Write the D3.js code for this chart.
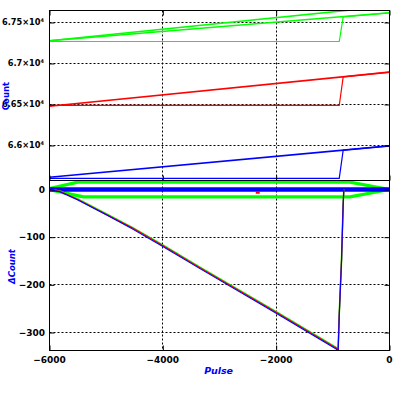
<!DOCTYPE html>
<html><head><meta charset="utf-8">
<script src="https://cdn.jsdelivr.net/npm/d3@7"></script>
<style>body{margin:0;background:#fff}svg{display:block}</style>
</head><body><svg id="c" width="399" height="399"></svg>
<script>
// ---------------- data ----------------
const xDomain = [-6000, 0];
const xMajorTicks = [-6000, -4000, -2000, 0];
const xTickLabels = ["\u22126000", "\u22124000", "\u22122000", "0"];
const countDomain = [65573, 67646];
const countMajorTicks = [66000, 66500, 67000, 67500];
const countTickMantissa = ["6.6", "6.65", "6.7", "6.75"];
const countTickExponent = ["4", "4", "4", "4"];
const deltaDomain = [-337.7, 18.9];
const deltaMajorTicks = [-300, -200, -100, 0];
const deltaTickLabels = ["\u2212300", "\u2212200", "\u2212100", "0"];

// top panel (Count)
const greenSlopeAPulse = [-6000, 0];
const greenSlopeACount = [67278, 67700];
const greenSlopeBPulse = [-6000, 0];
const greenSlopeBCount = [67278, 67618];
const greenStepPulse = [-6000, -887, -817, 0];
const greenStepCount = [67268, 67268, 67568, 67618];
const redSlopePulse = [-6000, 0];
const redSlopeCount = [66479, 66894];
const redStepPulse = [-6000, -887, -817, 0];
const redStepCount = [66488, 66488, 66837, 66894];
const blueSlopePulse = [-6000, 0];
const blueSlopeCount = [65613, 65995];
const blueStepPulse = [-6000, -887, -817, 0];
const blueStepCount = [65598, 65598, 65943, 65995];

// bottom panel (ΔCount)
const greenUpperPulse = [-6000, -5500, -700, 0];
const greenUpperDelta = [2, 15.5, 15.5, 0];
const greenLowerPulse = [-6000, -5900, -5400, -700, 0];
const greenLowerDelta = [0, -3, -15.5, -15.5, 0];
const redSpotPulse = [-2360, -2290];
const redSpotDelta = [-7, -7];
const blueBandPulse = [-6000, 0];
const blueBandDelta = [0, 0];
const diagPulse = [-6000, -5811, -5500, -5000, -4548, -4008, -3345, -1992, -934, -915, -906, -888, -846, -818, -806];
const diagGreenDelta = [0, -3, -20, -51, -79, -116, -163, -257, -332, -338, -336, -265, -146, -31, 0];
const diagRedDelta = [0, -4, -21, -52, -80, -117, -164, -258, -333, -339, -337, -266, -147, -32, 0];
const diagBlueDelta = [0, -5, -22, -53, -82, -119, -166, -260, -335, -340, -337, -267, -148, -33, 0];

// ---------------- drawing ----------------
const svg = d3.select("#c");
const L = 49.5, R = 389.5, T1 = 10.5, B1 = 180.5, T2 = 180.5, B2 = 350.5;
const x = d3.scaleLinear().domain(xDomain).range([L, R]);
const yTop = d3.scaleLinear().domain(countDomain).range([B1, T1]);
const yBot = d3.scaleLinear().domain(deltaDomain).range([B2, T2]);
const FONT = "'DejaVu Sans', sans-serif";

const defs = svg.append("defs");
defs.append("clipPath").attr("id", "clipTop").append("rect")
  .attr("x", L).attr("y", T1).attr("width", R - L).attr("height", B1 - T1);
defs.append("clipPath").attr("id", "clipBot").append("rect")
  .attr("x", L).attr("y", T2).attr("width", R - L).attr("height", B2 - T2);

// grid
const snap = v => Math.round(v - 0.5) + 0.5;
const grid = svg.append("g").attr("stroke", "#000").attr("stroke-width", 1).attr("stroke-dasharray", "2,2");
grid.selectAll("line.gy1").data(countMajorTicks).join("line")
  .attr("class", "gy1")
  .attr("x1", L).attr("x2", R).attr("y1", d => snap(yTop(d))).attr("y2", d => snap(yTop(d)));
grid.selectAll("line.gy2").data(deltaMajorTicks.filter(d => d !== 0)).join("line")
  .attr("class", "gy2")
  .attr("x1", L).attr("x2", R).attr("y1", d => snap(yBot(d))).attr("y2", d => snap(yBot(d)));
grid.selectAll("line.gx").data(xMajorTicks.filter(d => d > xDomain[0] && d < xDomain[1])).join("line")
  .attr("class", "gx")
  .attr("x1", d => snap(x(d))).attr("x2", d => snap(x(d))).attr("y1", T1).attr("y2", B2);

// series helper
function drawLine(g, xs, ys, yScale, color, width) {
  const pts = xs.map((p, i) => [p, ys[i]]);
  g.append("path").datum(pts)
    .attr("fill", "none").attr("stroke", color).attr("stroke-width", width)
    .attr("stroke-linejoin", "round")
    .attr("d", d3.line().x(d => x(d[0])).y(d => yScale(d[1])));
}

const gTop = svg.append("g").attr("clip-path", "url(#clipTop)");
drawLine(gTop, greenStepPulse, greenStepCount, yTop, "#00ff00", 1.2);
drawLine(gTop, greenSlopeAPulse, greenSlopeACount, yTop, "#00ff00", 1.6);
drawLine(gTop, greenSlopeBPulse, greenSlopeBCount, yTop, "#00ff00", 1.6);
drawLine(gTop, redStepPulse, redStepCount, yTop, "#ff0000", 1.2);
drawLine(gTop, redSlopePulse, redSlopeCount, yTop, "#ff0000", 1.6);
drawLine(gTop, blueStepPulse, blueStepCount, yTop, "#0000ff", 1.2);
drawLine(gTop, blueSlopePulse, blueSlopeCount, yTop, "#0000ff", 1.6);

const gBot = svg.append("g").attr("clip-path", "url(#clipBot)");
drawLine(gBot, greenUpperPulse, greenUpperDelta, yBot, "#00ff00", 3.2);
drawLine(gBot, greenLowerPulse, greenLowerDelta, yBot, "#00ff00", 3.2);
drawLine(gBot, redSpotPulse, redSpotDelta, yBot, "#ff0000", 2);
drawLine(gBot, blueBandPulse, blueBandDelta, yBot, "#0000ff", 4.5);
drawLine(gBot, diagPulse, diagGreenDelta, yBot, "#00ff00", 1.6);
drawLine(gBot, diagPulse, diagRedDelta, yBot, "#ff0000", 1.3);
drawLine(gBot, diagPulse, diagBlueDelta, yBot, "#0000ff", 1.1);

// axes ticks (inward)
function minorRange(a, b, step) { return d3.range(a, b + step / 2, step); }
const xMinor = minorRange(-6000, 0, 500);
const countMinor = minorRange(65600, 67600, 100);
const deltaMinor = minorRange(-320, 0, 20);

function ticks(axisGen, scale, major, minor, transform) {
  const g = svg.append("g").attr("transform", transform);
  g.call(axisGen(scale).tickValues(minor).tickSizeInner(-3).tickSizeOuter(0).tickFormat(""));
  g.call(axisGen(scale).tickValues(major).tickSizeInner(-5).tickSizeOuter(0).tickFormat(""));
  g.selectAll(".domain").remove();
  g.selectAll("line").attr("stroke", "#000");
}
ticks(d3.axisLeft, yTop, countMajorTicks, countMinor, `translate(${L},0)`);
ticks(d3.axisRight, yTop, countMajorTicks, countMinor, `translate(${R},0)`);
ticks(d3.axisLeft, yBot, deltaMajorTicks, deltaMinor, `translate(${L},0)`);
ticks(d3.axisRight, yBot, deltaMajorTicks, deltaMinor, `translate(${R},0)`);
ticks(d3.axisTop, x, xMajorTicks, xMinor, `translate(0,${T1})`);
ticks(d3.axisBottom, x, xMajorTicks, xMinor, `translate(0,${B1})`);
ticks(d3.axisBottom, x, xMajorTicks, xMinor, `translate(0,${B2})`);

// frames
svg.append("rect").attr("x", L).attr("y", T1).attr("width", R - L).attr("height", B2 - T1)
  .attr("fill", "none").attr("stroke", "#000").attr("stroke-width", 1);
svg.append("line").attr("x1", L).attr("x2", R).attr("y1", B1).attr("y2", B1)
  .attr("stroke", "#000").attr("stroke-width", 1);

// tick labels
const lab = svg.append("g").attr("font-family", FONT).attr("font-weight", "bold").attr("fill", "#000");
const tl = lab.selectAll("text.ct").data(countMajorTicks).join("text")
  .attr("class", "ct").attr("x", 44).attr("y", d => yTop(d)).attr("dy", "0.36em")
  .attr("text-anchor", "end").attr("font-size", 8.2);
tl.append("tspan").text((d, i) => countTickMantissa[i] + "\u00d710");
tl.append("tspan").attr("font-size", 5).attr("dy", "-0.6em").text((d, i) => countTickExponent[i]);
lab.selectAll("text.dt").data(deltaMajorTicks).join("text")
  .attr("class", "dt").attr("x", 45).attr("y", d => yBot(d)).attr("dy", "0.36em")
  .attr("text-anchor", "end").attr("font-size", 9)
  .text((d, i) => deltaTickLabels[i]);
lab.selectAll("text.xt").data(xMajorTicks).join("text")
  .attr("class", "xt").attr("x", d => x(d)).attr("y", 362.5).attr("text-anchor", "middle")
  .attr("font-size", 9)
  .text((d, i) => xTickLabels[i]);

// axis titles
const ttl = svg.append("g").attr("font-family", FONT).attr("font-weight", "bold").attr("fill", "#0000ff");
ttl.append("text").attr("transform", "translate(8.5,96) rotate(-90)").attr("text-anchor", "middle")
  .attr("font-size", 8.5).text("Count");
ttl.append("text").attr("transform", "translate(15,266.5) rotate(-90)").attr("text-anchor", "middle")
  .attr("font-size", 8.5).attr("font-style", "italic").text("\u0394Count");
ttl.append("text").attr("x", 218.7).attr("y", 374).attr("text-anchor", "middle")
  .attr("font-size", 9.5).attr("font-style", "italic").text("Pulse");
</script></body></html>
